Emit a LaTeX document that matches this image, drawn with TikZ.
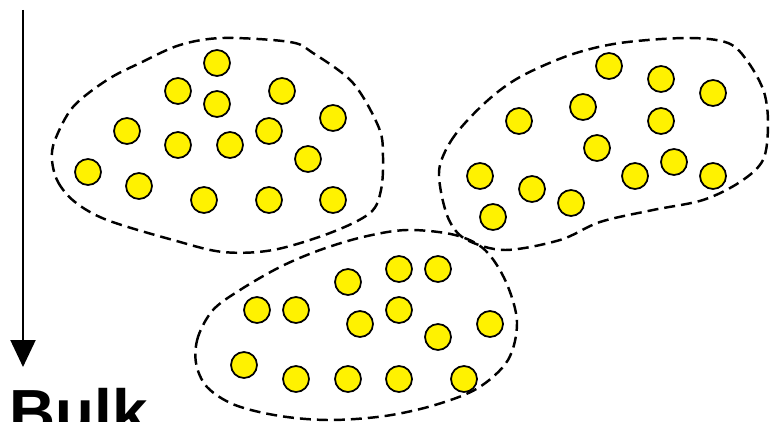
\documentclass[tikz,border=0pt]{standalone}
\usepackage{fontspec}
\setmainfont{Liberation Sans}
\usetikzlibrary{arrows.meta}

\tikzset{
  grain/.style={circle, draw=black, fill=yellow, line width=1pt,
    minimum size=0.52cm, inner sep=0pt},
  cluster/.style={draw=black, line width=1.4pt,
    dash pattern=on 0.22cm off 0.12cm}
}

\begin{document}
\begin{tikzpicture}[x=0.02cm, y=-0.02cm]
  \useasboundingbox (0,0) rectangle (770,422);

  % depth arrow
  \coordinate (top) at (23,10);
  \coordinate (bottom) at (23,367);
  \draw[line width=1.2pt, -{Triangle[width=0.5cm, length=0.54cm]}] (top) -- (bottom);
  \node[anchor=base west, inner sep=0pt, font=\bfseries\fontsize{36.3}{42}\selectfont]
    (bulk) at (9,434) {Bulk};

  % cluster outlines
  \draw[cluster] plot[smooth cycle, tension=0.55] coordinates {
    (52,160) (58,182) (75,202) (107,220) (173,240) (223,252) (273,250)
    (330,233) (370,213) (381,190) (383,157) (379,128) (353,83) (313,53)
    (290,42) (223,38) (180,45) (140,63) (107,80) (73,107) (55,140)};
  \draw[cluster] plot[smooth cycle, tension=0.55] coordinates {
    (487,101) (455,135) (440,165) (441,192) (450,222) (467,240) (505,250)
    (560,240) (600,222) (653,210) (703,200) (740,182) (763,160) (768,125)
    (764,92) (748,62) (728,43) (687,38) (620,43) (570,55) (520,77)};
  \draw[cluster] plot[smooth cycle, tension=0.55] coordinates {
    (213,310) (198,337) (196,363) (207,387) (235,405) (280,416) (330,420)
    (385,416) (435,405) (478,388) (508,360) (517,322) (506,282) (485,250)
    (455,235) (407,230) (363,237) (320,250) (280,267) (240,290)};

  % grains, left cluster
  \foreach \x/\y [count=\i] in {217/63, 178/91, 217/104, 282/91, 333/118,
      127/131, 178/145, 230/145, 269/131, 308/159, 88/172, 139/186,
      204/200, 269/200, 333/200}
    \node[grain] (l\i) at (\x,\y) {};

  % grains, right cluster
  \foreach \x/\y [count=\i] in {609/66, 661/79, 713/93, 583/107, 519/121,
      661/121, 597/148, 674/162, 635/176, 713/176, 480/176, 532/189,
      571/203, 493/217}
    \node[grain] (r\i) at (\x,\y) {};

  % grains, lower cluster
  \foreach \x/\y [count=\i] in {399/269, 438/269, 348/282, 257/310, 296/310,
      399/310, 360/324, 490/324, 438/337, 244/365, 296/379, 348/379,
      399/379, 464/379}
    \node[grain] (b\i) at (\x,\y) {};
\end{tikzpicture}
\end{document}
